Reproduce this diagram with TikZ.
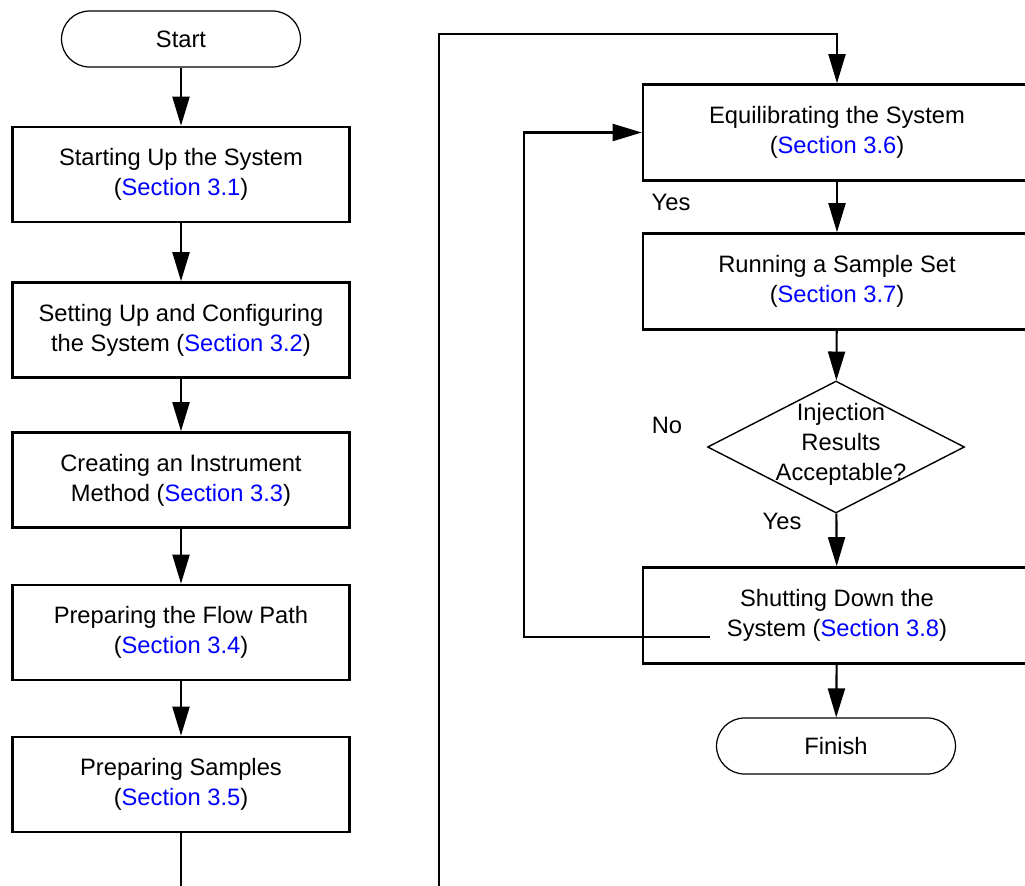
\documentclass[tikz,border=0pt]{standalone}
\usepackage{fontspec}
\setmainfont{Liberation Sans}
\usetikzlibrary{arrows.meta,shapes.geometric}
\definecolor{linkColor}{RGB}{0,0,255}
\tikzstyle{chart} = [x = 0.02cm, y = -0.02cm, font=\fontsize{13.5}{17}\selectfont]
\tikzstyle{stepBox} = [draw, line width=1.5pt, minimum width=6.74cm, minimum height=1.9cm, align=center, inner sep=0]
\tikzstyle{wideBox} = [stepBox, minimum width=7.76cm, minimum height=1.92cm]
\tikzstyle{terminal} = [draw, line width=0.7pt, rounded corners=0.56cm, minimum width=4.78cm, minimum height=1.12cm]
\tikzstyle{decision} = [draw, diamond, line width=0.8pt, minimum width=5.14cm, minimum height=2.64cm, inner sep=0]
\tikzstyle{flowArrow} = [line width=1.2pt, -{Triangle[length=0.58cm, width=0.34cm]}]
\tikzstyle{flowLine} = [line width=1.2pt]
\newcommand{\sectionRef}[1]{(\textcolor{linkColor}{Section #1})}

\begin{document}
\begin{tikzpicture}[chart]
        \useasboundingbox (0,0) rectangle (1025,886);

        % first column
        \node[terminal] (start) at (181,39) {Start};
        \node[stepBox] (startUp) at (181,174.5) {Starting Up the System\\\sectionRef{3.1}};
        \node[stepBox] (setUp) at (181,330) {Setting Up and Configuring\\the System \sectionRef{3.2}};
        \node[stepBox] (method) at (181,480) {Creating an Instrument\\Method \sectionRef{3.3}};
        \node[stepBox] (flowPath) at (181,632.5) {Preparing the Flow Path\\\sectionRef{3.4}};
        \node[stepBox] (samples) at (181,784.5) {Preparing Samples\\\sectionRef{3.5}};
        \coordinate (leftEnd) at (181,886);

        \draw[flowArrow] (start) -- (startUp);
        \draw[flowArrow] (startUp) -- (setUp);
        \draw[flowArrow] (setUp) -- (method);
        \draw[flowArrow] (method) -- (flowPath);
        \draw[flowArrow] (flowPath) -- (samples);
        \draw[flowLine] (samples) -- (leftEnd);

        % second column
        \node[wideBox] (equil) at (837,132.5) {Equilibrating the System\\\sectionRef{3.6}};
        \node[wideBox] (run) at (837,281.5) {Running a Sample Set\\\sectionRef{3.7}};
        \node[decision] (check) at (836,447) {};
        \node[align=center, inner sep=0] (checkText) at (841,444) {Injection\\Results\\Acceptable?};
        \node[wideBox] (shutDown) at (837,615.5) {Shutting Down the\\System \sectionRef{3.8}};
        \node[terminal] (finish) at (836,746) {Finish};

        \coordinate (rightEnd) at (439,886);
        \coordinate (topCorner) at (439,34);
        \coordinate (loopStart) at (710,637);
        \coordinate (loopCorner) at (524,637);

        \draw[flowArrow] (rightEnd) -- (topCorner) -| (equil.north);
        \draw[flowArrow] (equil) -- (run);
        \draw[flowArrow] (run) -- (check);
        \draw[flowArrow] (check) -- (shutDown);
        \draw[flowArrow] (shutDown) -- (finish);
        \draw[flowArrow] (loopStart) -- (loopCorner) |- (equil.west);

        % branch labels
        \node (yesTop) at (671,202) {Yes};
        \node (noLabel) at (667,425) {No};
        \node (yesBottom) at (782,521) {Yes};
      \end{tikzpicture}
\end{document}
